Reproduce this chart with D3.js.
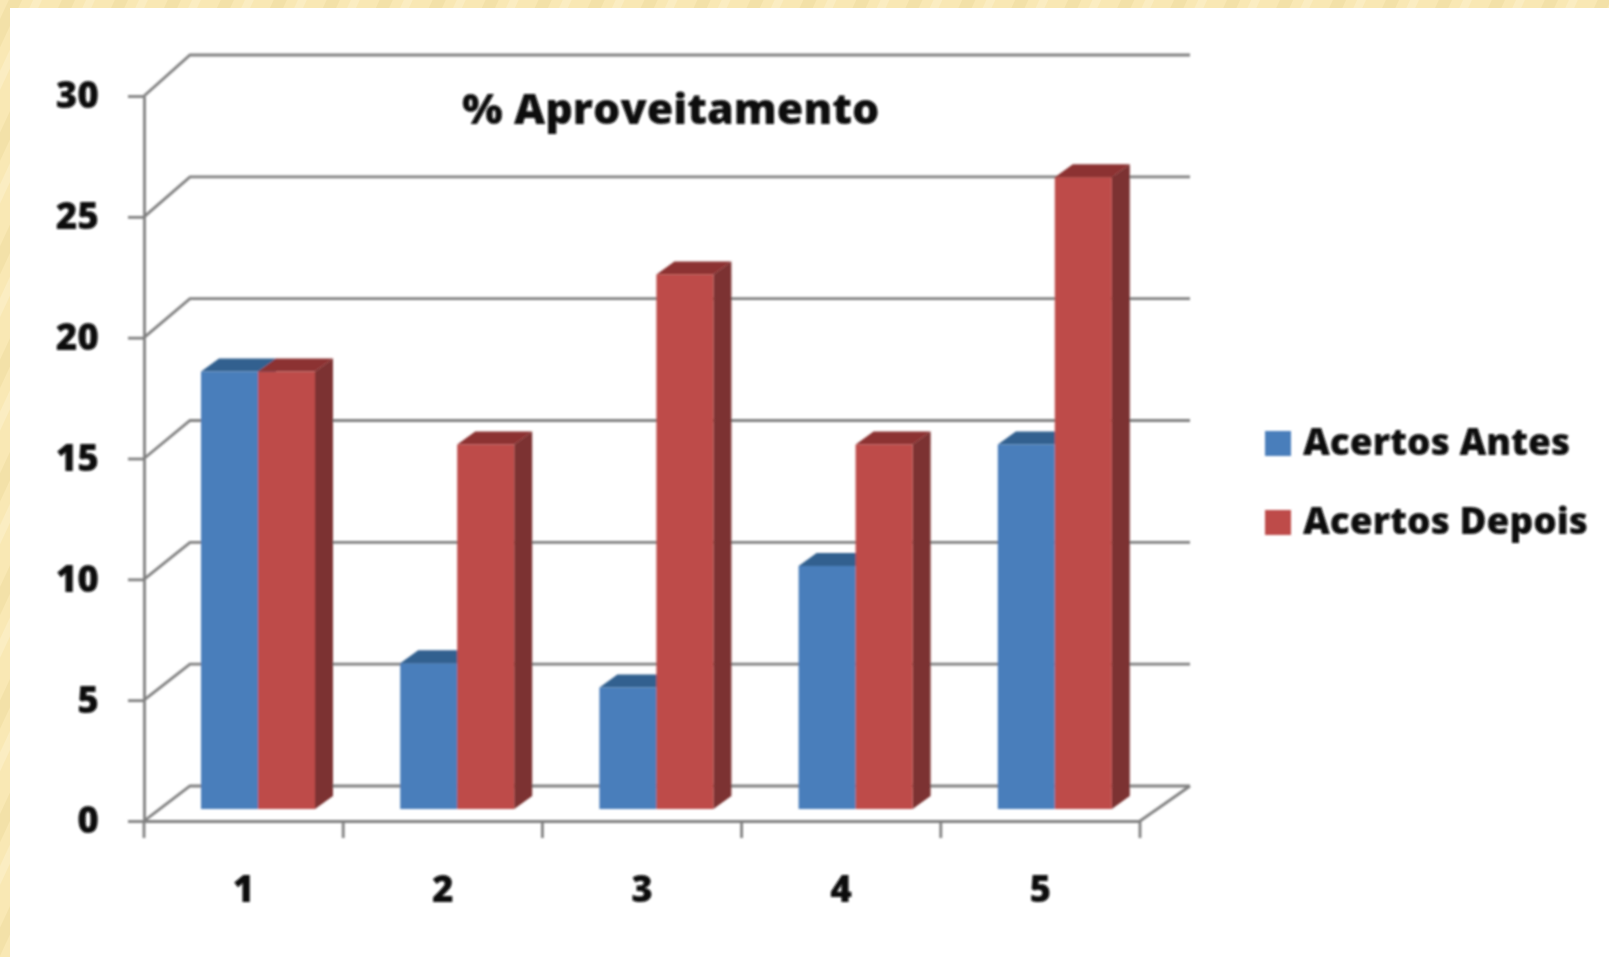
<!DOCTYPE html>
<html>
<head>
<meta charset="utf-8">
<script src="https://cdnjs.cloudflare.com/ajax/libs/d3/7.8.5/d3.min.js"></script>
<style>
  body { margin: 0; background: #fff; overflow: hidden; }
  text { font-family: "Open Sans", Lato, sans-serif; font-weight: 800; fill: #0a0a0a; }
</style>
</head>
<body>
<div id="chart"></div>
<script>
var categories = ['1', '2', '3', '4', '5'];
var acertosAntes = [18, 6, 5, 10, 15];
var acertosDepois = [18, 15, 22, 15, 26];
var yTicks = [0, 5, 10, 15, 20, 25, 30];
var seriesNames = ['Acertos Antes', 'Acertos Depois'];
var chartTitle = '% Aproveitamento';

var width = 1609, height = 957;
var gridColor = '#808080';

var svg = d3.select('#chart').append('svg')
    .attr('width', width)
    .attr('height', height);

var defs = svg.append('defs');

// cream hatched frame
var hatch = defs.append('pattern')
    .attr('id', 'hatch')
    .attr('patternUnits', 'userSpaceOnUse')
    .attr('width', 48)
    .attr('height', 48)
    .attr('patternTransform', 'rotate(25)');
hatch.append('rect').attr('width', 48).attr('height', 48).attr('fill', '#f9e8b4');
hatch.append('rect').attr('x', 8).attr('width', 12).attr('height', 48).attr('fill', '#f3e1a8');
hatch.append('rect').attr('x', 30).attr('width', 8).attr('height', 48).attr('fill', '#fbedc2');

defs.append('filter').attr('id', 'soft')
    .append('feGaussianBlur').attr('stdDeviation', 0.8);

svg.append('rect').attr('width', width).attr('height', height).attr('fill', 'url(#hatch)');
svg.append('rect').attr('x', 10).attr('y', 8)
    .attr('width', width - 10).attr('height', height - 8).attr('fill', '#fff');

var g = svg.append('g').attr('filter', 'url(#soft)');

var x = d3.scaleBand().domain(categories).range([144, 1140]);
var y = d3.scaleLinear().domain([0, 30]).range([821, 96]);
var yBack = d3.scaleLinear().domain([0, 30]).range([786, 55]);   // back wall
var yBar = d3.scaleLinear().domain([0, 30]).range([809, 80]);    // bars stand on the floor

var backLeft = 190, backRight = 1190;

// gridlines on the back wall and the diagonal back to the axis
g.selectAll('.grid').data(yTicks).enter().append('path')
    .attr('class', 'grid')
    .attr('fill', 'none')
    .attr('stroke', gridColor)
    .attr('stroke-width', 2.8)
    .attr('d', function(d) {
      return 'M' + x.range()[0] + ',' + y(d) + 'L' + backLeft + ',' + yBack(d) + 'L' + backRight + ',' + yBack(d);
    });

// floor right edge
g.append('line')
    .attr('x1', x.range()[1]).attr('y1', y(0))
    .attr('x2', backRight).attr('y2', yBack(0))
    .attr('stroke', gridColor).attr('stroke-width', 2.8);

// axes
var yAxis = g.append('g')
    .attr('transform', 'translate(144,0)')
    .call(d3.axisLeft(y).tickValues(yTicks).tickSize(16).tickPadding(29).tickSizeOuter(0));

var xAxis = g.append('g')
    .attr('transform', 'translate(0,' + y(0) + ')')
    .call(d3.axisBottom(x).tickSize(0).tickPadding(55).tickSizeOuter(0));

g.selectAll('.domain, .tick line')
    .attr('stroke', gridColor)
    .attr('stroke-width', 2.8);
g.selectAll('.tick text')
    .style('font-size', '37px')
    .attr('fill', '#0a0a0a');

// x ticks sit on the band edges
var xEdges = categories.map(function(c) { return x(c); }).concat(x.range()[1]);
g.selectAll('.xedge').data(xEdges).enter().append('line')
    .attr('class', 'xedge')
    .attr('x1', function(d) { return d; })
    .attr('x2', function(d) { return d; })
    .attr('y1', y(0))
    .attr('y2', y(0) + 17)
    .attr('stroke', gridColor)
    .attr('stroke-width', 2.8);

// 3D columns
var barOffset = 57, barW = 57, depthX = 18, depthY = 13;

var series = [
  { values: acertosAntes, shift: 0, front: '#4a7ebb', top: '#33608f', side: '#2f5a88' },
  { values: acertosDepois, shift: barW, front: '#be4b48', top: '#8c3331', side: '#7b3230' }
];

series.forEach(function(s) {
  var bars = g.append('g').selectAll('g').data(s.values).enter().append('g');

  function left(d, i) { return x(categories[i]) + barOffset + s.shift; }

  bars.append('path')
      .attr('fill', s.side)
      .attr('d', function(d, i) {
        var x1 = left(d, i) + barW;
        return 'M' + x1 + ',' + yBar(d) + 'L' + (x1 + depthX) + ',' + (yBar(d) - depthY) +
               'L' + (x1 + depthX) + ',' + (yBar(0) - depthY) + 'L' + x1 + ',' + yBar(0) + 'Z';
      });

  bars.append('path')
      .attr('fill', s.top)
      .attr('d', function(d, i) {
        var x0 = left(d, i);
        return 'M' + x0 + ',' + yBar(d) + 'L' + (x0 + depthX) + ',' + (yBar(d) - depthY) +
               'L' + (x0 + barW + depthX) + ',' + (yBar(d) - depthY) + 'L' + (x0 + barW) + ',' + yBar(d) + 'Z';
      });

  bars.append('rect')
      .attr('fill', s.front)
      .attr('x', left)
      .attr('y', function(d) { return yBar(d); })
      .attr('width', barW)
      .attr('height', function(d) { return yBar(0) - yBar(d); });
});

// title
g.append('text')
    .attr('x', 462)
    .attr('y', 124)
    .style('font-size', '43px')
    .text(chartTitle);

// legend
var legend = g.selectAll('.legend').data(seriesNames).enter().append('g')
    .attr('class', 'legend')
    .attr('transform', function(d, i) { return 'translate(1265,' + (431 + i * 79) + ')'; });

legend.append('rect')
    .attr('width', 26)
    .attr('height', 25)
    .attr('fill', function(d, i) { return series[i].front; });

legend.append('text')
    .attr('x', 38)
    .attr('y', 24)
    .style('font-size', '37px')
    .text(function(d) { return d; });
</script>
</body>
</html>
